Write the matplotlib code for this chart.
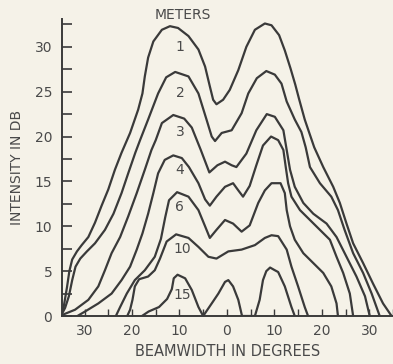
import numpy as np
import matplotlib
matplotlib.use("Agg")
import matplotlib.pyplot as plt
from matplotlib.ticker import MultipleLocator, FuncFormatter

# beam patterns: (degrees, dB) for each distance in meters
deg_1 = [-35.0, -34.4, -33.7, -33.2, -32.6, -31.6, -30.6, -29.2, -27.8, -26.4, -25.0, -23.6,
         -22.2, -20.4, -18.7, -17.8, -17.3, -16.6, -15.5, -13.7, -12.0, -10.3, -8.1, -6.0,
         -4.6, -3.6, -2.9, -2.2, -0.8, 0.6, 2.4, 4.1, 5.9, 8.0, 9.4, 11.0, 12.2, 13.4, 14.4,
         15.2, 16.4, 17.3, 18.4, 20.3, 22.4, 23.8, 25.2, 26.6, 28.7, 30.8, 32.9, 34.7]
db_1 = [0, 1.0, 3.2, 5.0, 6.3, 7.2, 7.9, 8.8, 10.4, 12.3, 14.1, 16.3,
        18.2, 20.4, 23.0, 24.8, 26.7, 28.8, 30.6, 31.9, 32.3, 32.1, 31.2, 29.7,
        27.8, 25.6, 24.1, 23.6, 24.1, 25.2, 27.4, 30.0, 31.9, 32.6, 32.4, 31.3, 29.6, 27.6, 25.8,
        24.2, 21.9, 20.5, 18.8, 16.6, 14.4, 12.6, 10.3, 8.1, 5.9, 3.6, 1.4, 0]

deg_2 = [-35.0, -34.1, -33.3, -32.6, -31.9, -30.9, -29.5, -27.8, -25.7, -23.9, -22.2, -20.8,
         -19.3, -18.3, -16.6, -14.5, -12.8, -10.9, -8.1, -6.0, -4.3, -3.2, -2.5, -1.1, 1.0,
         3.1, 4.5, 6.3, 8.3, 10.1, 11.5, 12.6, 14.3, 15.7, 16.6, 17.5, 19.6, 22.0, 23.4, 24.8,
         26.6, 28.7, 30.5, 32.2]
db_2 = [0, 0.9, 2.2, 4.0, 5.5, 6.4, 7.2, 8.1, 9.6, 11.4, 13.7, 15.9,
        18.2, 19.6, 21.9, 24.8, 26.6, 27.2, 26.7, 24.8, 21.9, 20.0, 19.5, 20.4, 20.7,
        22.6, 24.8, 26.5, 27.3, 26.9, 25.9, 23.9, 21.9, 20.5, 18.8, 16.6, 14.8, 13.3, 11.8, 9.6,
        7.0, 4.8, 2.5, 0]

deg_3 = [-34.8, -32.0, -29.2, -27.1, -25.7, -24.3, -22.5, -20.8, -19.0, -17.3, -15.9, -15.0,
         -13.7, -11.3, -9.0, -7.4, -5.5, -3.7, -2.0, -0.4, 1.0, 2.0, 4.1, 6.2, 8.4, 10.1,
         11.9, 12.6, 13.3, 14.3, 16.1, 18.2, 21.0, 23.1, 25.2, 27.3, 29.1, 30.1]
db_3 = [0.1, 0.7, 1.8, 3.3, 5.1, 7.0, 8.8, 11.1, 13.7, 16.3, 18.5, 19.6,
        21.5, 22.4, 22.0, 21.0, 18.5, 16.0, 16.8, 17.2, 16.8, 16.6, 18.1, 20.7, 22.5, 22.2,
        20.7, 18.5, 16.3, 14.4, 12.6, 11.4, 10.3, 8.8, 6.6, 4.4, 2.2, 0]

deg_4 = [-31.5, -29.9, -27.1, -24.3, -22.2, -20.4, -19.0, -17.8, -16.6, -15.5, -14.5, -13.1,
         -11.3, -9.5, -8.0, -6.0, -4.6, -3.6, -2.2, -0.4, 1.3, 2.4, 3.4, 4.8, 6.2, 7.6, 9.3,
         10.8, 11.9, 12.4, 12.9, 13.6, 15.4, 17.5, 19.6, 21.7, 23.1, 24.5, 25.9, 26.6]
db_4 = [0, 0.5, 1.4, 2.5, 4.0, 5.5, 7.4, 9.2, 11.4, 13.7, 15.9, 17.4,
        17.9, 17.6, 16.6, 14.8, 13.0, 12.3, 13.3, 14.4, 14.8, 14.0, 13.3, 14.5, 16.8, 19.0, 20.0,
        19.6, 18.5, 16.6, 14.8, 13.3, 11.8, 10.7, 9.6, 8.5, 6.6, 4.8, 2.5, 0]

deg_6 = [-23.4, -22.5, -21.1, -19.4, -17.3, -15.2, -13.9, -13.0, -12.2, -10.5, -8.1, -6.0,
         -4.6, -3.6, -2.2, -0.4, 1.3, 3.1, 4.8, 6.6, 8.0, 9.4, 11.3, 12.2, 12.6, 13.3, 14.3,
         16.1, 18.2, 20.3, 22.0, 23.1, 23.4]
db_6 = [0, 1.0, 2.5, 4.0, 5.1, 6.6, 8.6, 11.0, 12.9, 13.8, 13.3, 11.8,
        10.0, 8.7, 9.6, 10.7, 10.3, 9.4, 10.1, 12.6, 14.0, 14.8, 14.8, 13.7, 11.8, 10.0, 8.5,
        7.0, 5.9, 4.8, 3.3, 1.4, 0]

deg_10 = [-21.0, -20.4, -19.9, -19.4, -18.5, -16.6, -15.2, -14.1, -12.7, -10.7, -8.1, -6.0,
          -3.9, -2.2, 0.3, 3.1, 5.9, 8.0, 9.4, 10.8, 12.6, 13.6, 15.0, 16.4, 17.1]
db_10 = [0, 0.7, 1.8, 3.3, 4.1, 4.4, 5.1, 6.4, 8.3, 9.1, 8.7, 7.7,
         6.6, 6.4, 7.2, 7.4, 7.9, 8.7, 9.0, 8.9, 7.4, 5.5, 3.3, 1.0, 0]

deg_15 = [-17.9, -16.5, -14.3, -12.6, -11.6, -11.2, -10.4, -8.8, -7.4, -6.0, -5.0, -3.2,
          -1.8, -0.4, 0.3, 1.3, 2.4, 3.1, 3.2, 5.9, 6.9, 7.6, 8.3, 9.1, 10.1, 10.8, 12.2,
          13.6, 14.3]
db_15 = [0, 0.5, 1.0, 1.9, 3.0, 4.2, 4.6, 4.2, 2.9, 1.0, 0, 1.4,
         2.5, 3.8, 4.0, 3.3, 1.8, 0.2, 0, 0, 1.8, 4.0, 5.0, 5.4, 5.1, 4.9, 3.3,
         1.0, 0]

meters = ["1", "2", "3", "4", "6", "10", "15"]
label_deg = [-9.9, -9.9, -9.9, -9.9, -9.9, -9.5, -9.5]
label_db = [30.0, 24.8, 20.5, 16.3, 12.2, 7.5, 2.3]

ink = "#3a3a3a"
paper = "#f5f2e8"

fig = plt.figure(figsize=(3.93, 3.64), dpi=100, facecolor=paper)
ax = fig.add_axes([62 / 393, 48 / 364, 331 / 393, 297 / 364], facecolor=paper)

curves = [(deg_1, db_1), (deg_2, db_2), (deg_3, db_3), (deg_4, db_4),
          (deg_6, db_6), (deg_10, db_10), (deg_15, db_15)]
for d, v in curves:
    ax.plot(d, v, color=ink, lw=1.6, solid_joinstyle="round", solid_capstyle="round")

for name, x, y in zip(meters, label_deg, label_db):
    ax.text(x, y, name, ha="center", va="center", fontsize=10, color="#4a4a4a")

ax.text(-9.3, 33.6, "METERS", ha="center", va="center", fontsize=10, color="#4a4a4a",
        clip_on=False)

ax.set_xlim(-34.75, 35)
ax.set_ylim(0, 33.1)

for s in ["top", "right"]:
    ax.spines[s].set_visible(False)
for s in ["left", "bottom"]:
    ax.spines[s].set_color(ink)
    ax.spines[s].set_linewidth(1.4)

ax.xaxis.set_major_locator(MultipleLocator(10))
ax.xaxis.set_minor_locator(MultipleLocator(5))
ax.xaxis.set_major_formatter(FuncFormatter(lambda v, p: f"{abs(int(round(v)))}"))
ax.yaxis.set_major_locator(MultipleLocator(5))
ax.yaxis.set_minor_locator(MultipleLocator(2.5))

ax.tick_params(axis="x", which="both", direction="in", length=5, width=1.0, color=ink,
               labelsize=10, labelcolor="#4a4a4a", pad=6)
ax.tick_params(axis="y", which="both", direction="in", length=7, width=1.2, color=ink,
               labelsize=10, labelcolor="#4a4a4a", pad=7)

ax.set_xlabel("BEAMWIDTH IN DEGREES", fontsize=10.5, color="#4a4a4a", labelpad=4)
ax.set_ylabel("INTENSITY IN DB", fontsize=10, color="#4a4a4a", labelpad=8)

fig.savefig("out.png", dpi=100, facecolor=paper)
